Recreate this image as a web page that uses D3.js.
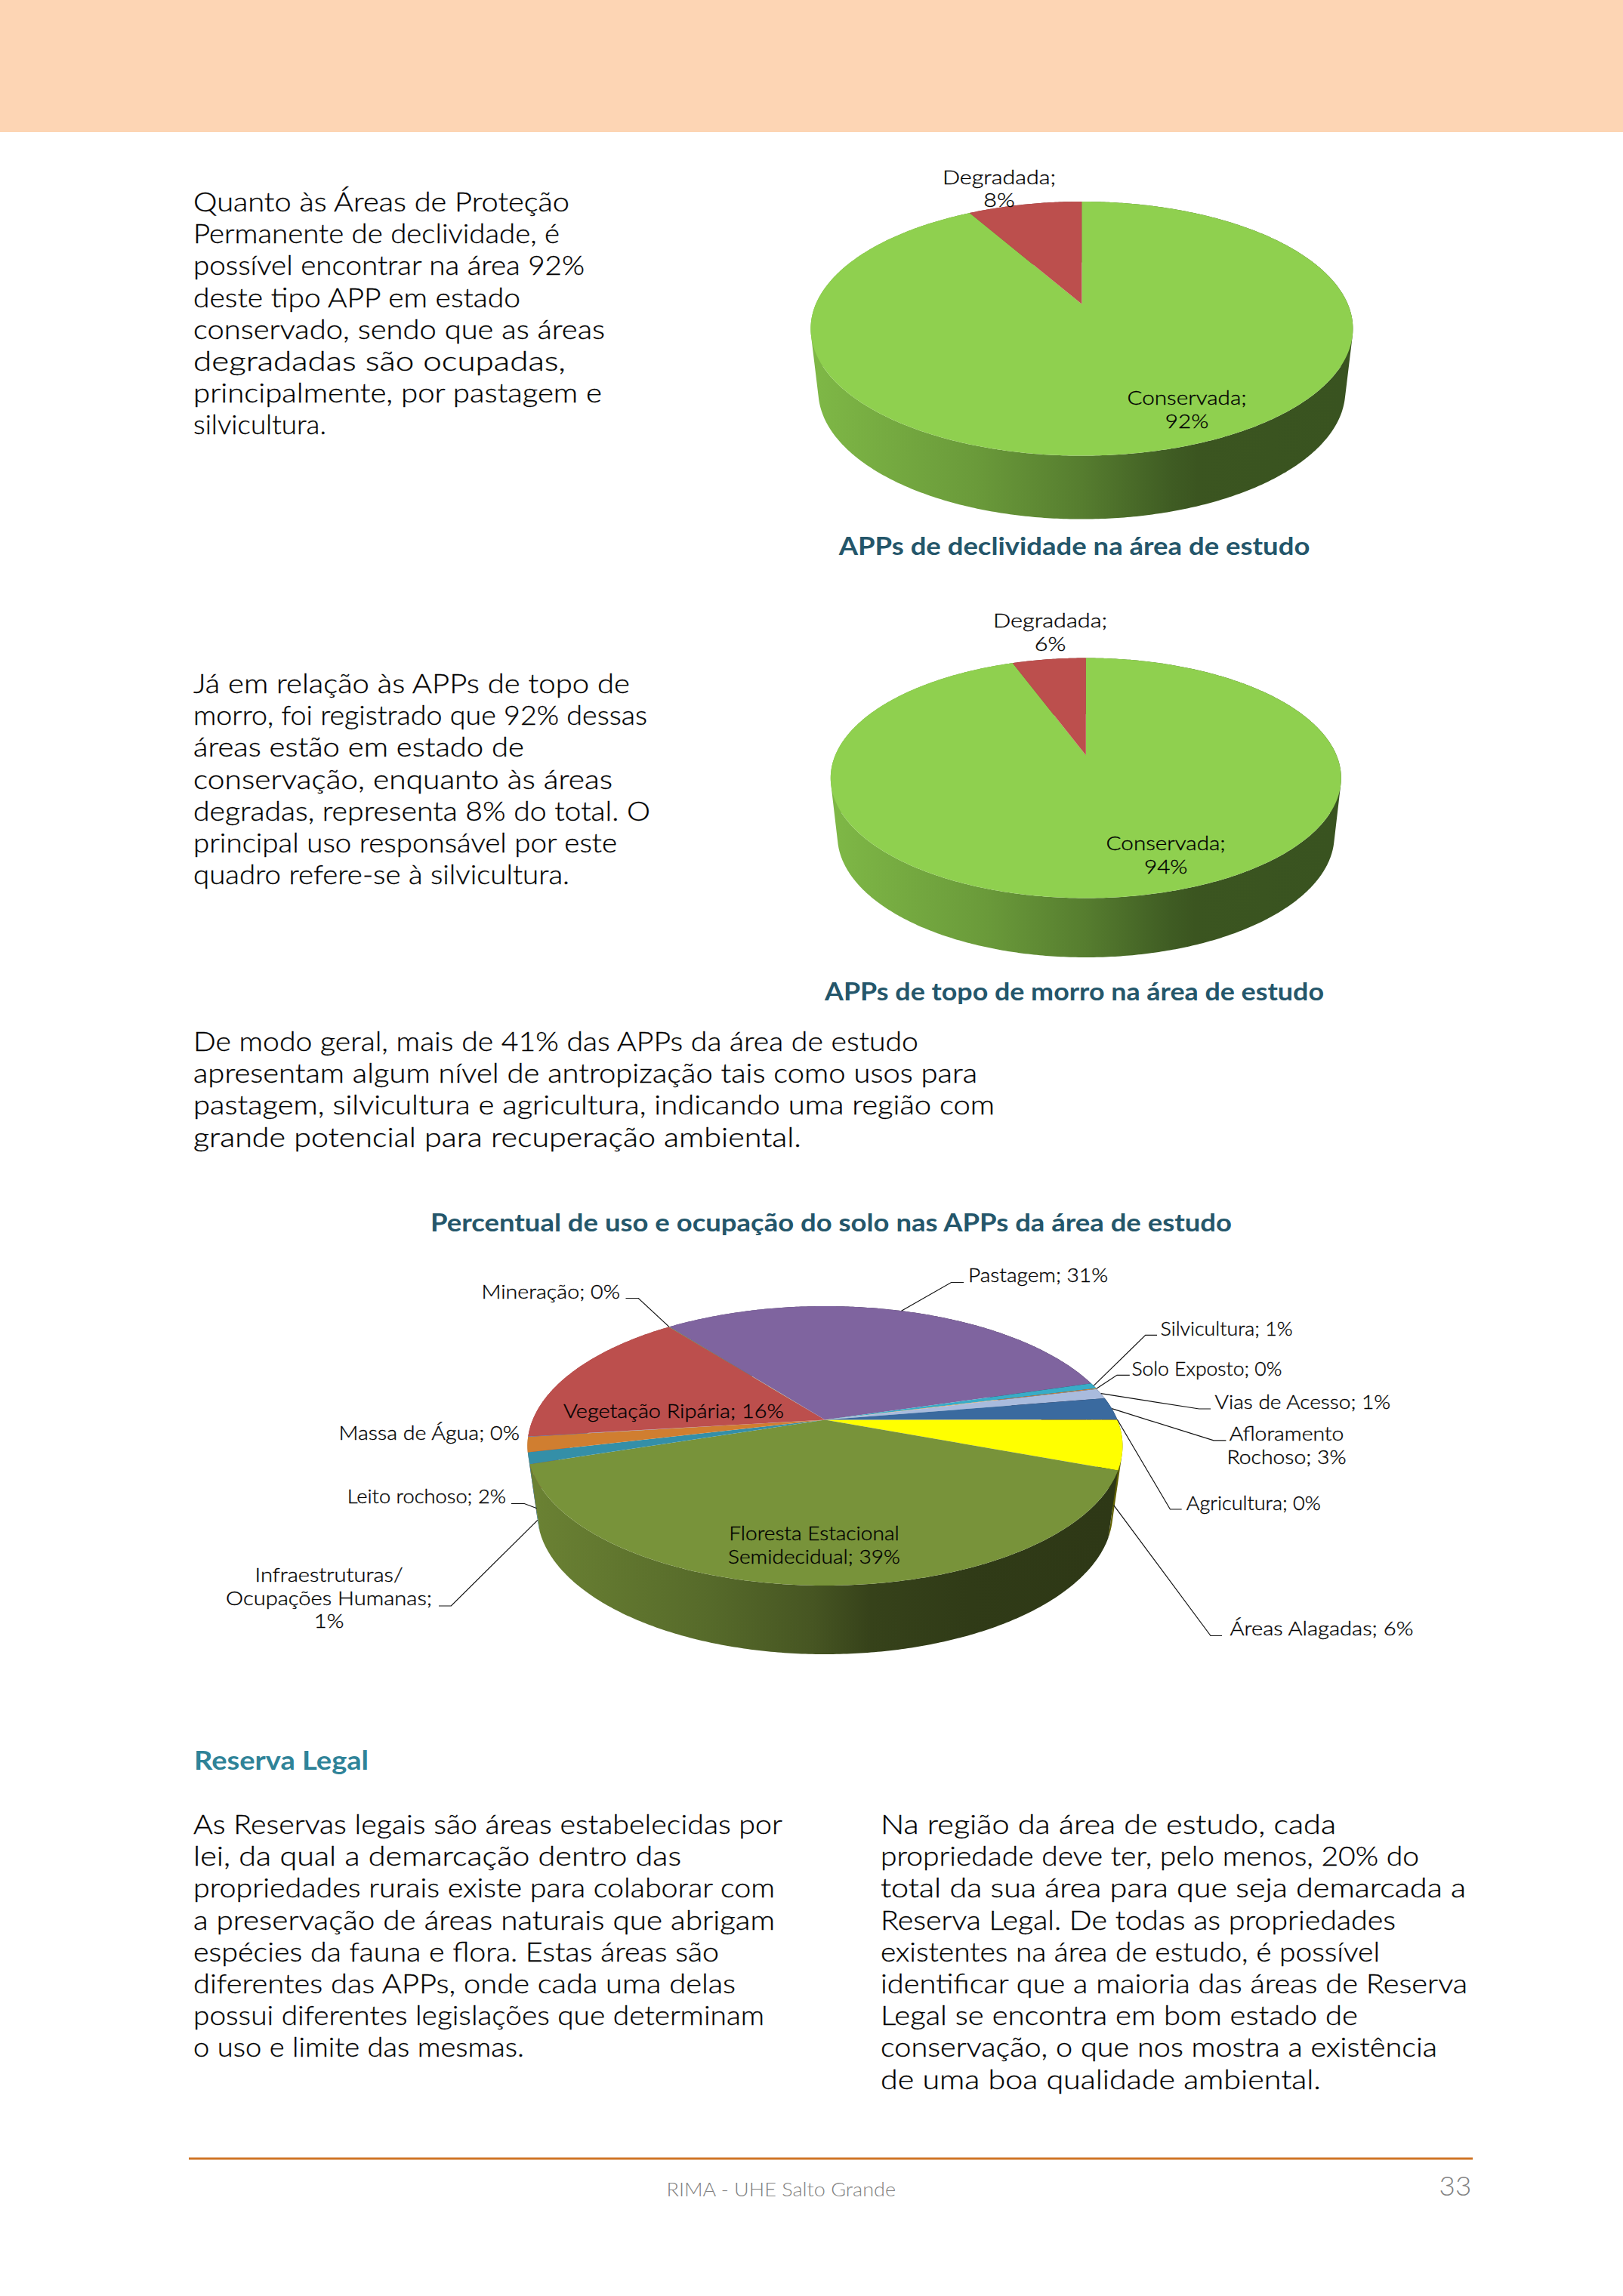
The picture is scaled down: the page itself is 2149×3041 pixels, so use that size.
<!DOCTYPE html>
<html><head><meta charset="utf-8">
<script src="https://cdnjs.cloudflare.com/ajax/libs/d3/7.8.5/d3.min.js"></script>
<style>html,body{margin:0;padding:0;background:#fff}svg{display:block}</style>
</head><body><div id="page"></div>
<script>
// ---------- data ----------
const slopeCategories = ["Conservada", "Degradada"];
const slopeValues = [91.8, 8.2];
const slopeColors = ["#8FD04F", "#BC4F4D"];

const hilltopCategories = ["Conservada", "Degradada"];
const hilltopValues = [94.4, 5.6];
const hilltopColors = ["#8FD04F", "#BC4F4D"];

const usoCategories = ["Áreas Alagadas", "Floresta Estacional\nSemidecidual", "Infraestruturas/\nOcupações Humanas",
  "Leito rochoso", "Massa de Água", "Vegetação Ripária", "Mineração", "Pastagem", "Silvicultura",
  "Solo Exposto", "Vias de Acesso", "Afloramento\nRochoso", "Agricultura"];
const usoValues = [5.7, 39.3, 1.3, 1.75, 0.05, 16.4, 0.05, 30.85, 0.65, 0.1, 1.2, 2.6, 0.05];
const usoColors = ["#FFFF00", "#78933A", "#348FA8", "#D07E30", "#6F8FC0", "#BC4F4D", "#9BBB59", "#7F649F",
  "#38ACC7", "#D9913F", "#A9BBDD", "#3A6A9F", "#D0A030"];

const para1 = ["Quanto às Áreas de Proteção", "Permanente de declividade, é", "possível encontrar na área 92%",
  "deste tipo APP em estado", "conservado, sendo que as áreas", "degradadas são ocupadas,",
  "principalmente, por pastagem e", "silvicultura."];
const para2 = ["Já em relação às APPs de topo de", "morro, foi registrado que 92% dessas",
  "áreas estão em estado de", "conservação, enquanto às áreas", "degradas, representa 8% do total. O",
  "principal uso responsável por este", "quadro refere-se à silvicultura."];
const para3 = ["De modo geral, mais de 41% das APPs da área de estudo",
  "apresentam algum nível de antropização tais como usos para",
  "pastagem, silvicultura e agricultura, indicando uma região com",
  "grande potencial para recuperação ambiental."];
const para4 = ["As Reservas legais são áreas estabelecidas por", "lei, da qual a demarcação dentro das",
  "propriedades rurais existe para colaborar com", "a preservação de áreas naturais que abrigam",
  "espécies da fauna e flora. Estas áreas são", "diferentes das APPs, onde cada uma delas",
  "possui diferentes legislações que determinam", "o uso e limite das mesmas."];
const para5 = ["Na região da área de estudo, cada", "propriedade deve ter, pelo menos, 20% do",
  "total da sua área para que seja demarcada a", "Reserva Legal. De todas as propriedades",
  "existentes na área de estudo, é possível", "identificar que a maioria das áreas de Reserva",
  "Legal se encontra em bom estado de", "conservação, o que nos mostra a existência",
  "de uma boa qualidade ambiental."];

// ---------- layout ----------
const W = 2149, H = 3041;
const FONT = "Lato, 'Open Sans', sans-serif";
const svg = d3.select("#page").append("svg").attr("width", W).attr("height", H).attr("viewBox", `0 0 ${W} ${H}`);
const defs = svg.append("defs");
svg.append("rect").attr("width", W).attr("height", H).attr("fill", "#fff");
svg.append("rect").attr("width", W).attr("height", 175).attr("fill", "#FDD5B4");

// stretch each line to reach the wide geometric look of the source face
function put(g, str, x, y, o) {
  const t = g.append("text").attr("x", x).attr("y", y).text(str)
    .attr("font-family", FONT).attr("font-size", o.size).attr("font-weight", o.weight || 300)
    .attr("fill", o.fill || "#000").attr("text-anchor", o.anchor || "start");
  if (o.stroke) t.attr("stroke", o.fill || "#000").attr("stroke-width", o.stroke);
  const len = t.node().getComputedTextLength();
  t.attr("textLength", o.width || len * o.k).attr("lengthAdjust", "spacingAndGlyphs");
  return t;
}

let gradId = 0;
function wallGradient(color, x0, x1, stops) {
  const id = "wall" + (gradId++);
  const grad = defs.append("linearGradient").attr("id", id).attr("gradientUnits", "userSpaceOnUse")
    .attr("x1", x0).attr("x2", x1).attr("y1", 0).attr("y2", 0);
  const c = d3.rgb(color);
  stops.forEach(([o, f]) => grad.append("stop").attr("offset", o)
    .attr("stop-color", d3.rgb(c.r * f, c.g * f, c.b * f).formatHex()));
  return `url(#${id})`;
}

// Perspective pie: a true circle is boosted so its centre lands on the apex above the ellipse centre.
function pie3d(cfg) {
  const g = svg.append("g");
  const a = cfg.tilt, s = Math.sqrt(1 - a * a);
  const xTop = d3.scaleLinear().domain([-1, 1]).range([cfg.cx - cfg.rx, cfg.cx + cfg.rx]);
  const yTop = d3.scaleLinear().domain([-1, 1]).range([cfg.cy - cfg.ry, cfg.cy + cfg.ry]);
  const xBot = d3.scaleLinear().domain([-1, 1]).range([cfg.cx - cfg.rxb, cfg.cx + cfg.rxb]);
  const yBot = d3.scaleLinear().domain([-1, 1]).range([cfg.cyb - cfg.ryb, cfg.cyb + cfg.ryb]);
  const boost = t => {
    const u = Math.sin(t), v = -Math.cos(t), d = 1 + a * v;
    return [u * s / d, (v + a) / d];
  };
  const top = t => { const [u, v] = boost(t); return [xTop(u), yTop(v)]; };
  const bot = t => { const [u, v] = boost(t); return [xBot(u), yBot(v)]; };
  const apex = [xTop(0), yTop(a)];
  const arcs = d3.pie().sort(null).startAngle(cfg.start).endAngle(cfg.start + 2 * Math.PI)(cfg.values);
  const line = d3.line();
  const sample = d => {
    const n = Math.max(2, Math.ceil((d.endAngle - d.startAngle) / 0.01));
    return d3.range(n + 1).map(i => d.startAngle + (d.endAngle - d.startAngle) * i / n);
  };
  // the wall is a strip of consistently wound quads, so the tangent silhouette between the two rims is filled
  const wallPath = d => {
    const t = sample(d);
    return d3.range(t.length - 1).map(i => {
      const q = [top(t[i]), top(t[i + 1]), bot(t[i + 1]), bot(t[i])];
      if (d3.polygonArea(q) < 0) q.reverse();
      return line(q) + "Z";
    }).join("");
  };
  const order = arcs.slice().sort((p, q) =>
    top((p.startAngle + p.endAngle) / 2)[1] - top((q.startAngle + q.endAngle) / 2)[1]);
  g.selectAll("path.wall").data(order).join("path").attr("class", "wall")
    .attr("d", wallPath)
    .attr("fill", d => wallGradient(cfg.colors[d.index], cfg.cx - cfg.rxb, cfg.cx + cfg.rxb, cfg.stops));
  g.selectAll("path.face").data(arcs).join("path").attr("class", "face")
    .attr("d", d => line([apex, ...sample(d).map(top)]) + "Z")
    .attr("fill", d => cfg.colors[d.index]);
  // labels
  const lab = g.append("g");
  arcs.forEach(d => {
    const p = cfg.place[d.index];
    const pct = Math.round(d.value) + "%";
    const lines = (cfg.names[d.index] + ";" + (p.sep || " ") + pct).split("\n");
    lines.forEach((l, i) => put(lab, l, p.x, p.y + i * (p.lh || 30.7),
      { size: 26, k: p.k, anchor: p.anchor, fill: "#000", stroke: .35 }));
    if (p.lead) {
      const m = (d.startAngle + d.endAngle) / 2, pt = top(m), pb = bot(m), f = p.drop || 0;
      const end = [pt[0] + (pb[0] - pt[0]) * f, pt[1] + (pb[1] - pt[1]) * f];
      g.append("path").attr("fill", "none").attr("stroke", "#111").attr("stroke-width", 1.2)
        .attr("d", line([[p.lead[0], p.lead[2]], [p.lead[1], p.lead[2]], end]));
    }
  });
}

const greenStops = [[0, .88], [.3, .74], [.5, .6], [.67, .44], [.72, .41], [1, .4]];
const oliveStops = [[0, .88], [.3, .72], [.48, .58], [.58, .45], [.75, .4], [1, .38]];
pie3d({ cx: 1432.4, rx: 359, cy: 435.3, ry: 168.3, tilt: -.193, cyb: 517.6, rxb: 349, ryb: 170, start: 0, stops: greenStops,
  values: slopeValues, colors: slopeColors, names: slopeCategories,
  place: [{ x: 1571.6, y: 536, anchor: "middle", sep: "\n", k: 1.14 }, { x: 1323, y: 243.6, anchor: "middle", sep: "\n", k: 1.17 }] });
pie3d({ cx: 1437.8, rx: 338, cy: 1030.5, ry: 159, tilt: -.191, cyb: 1107, rxb: 329, ryb: 161, start: 0, stops: greenStops,
  values: hilltopValues, colors: hilltopColors, names: hilltopCategories,
  place: [{ x: 1543.7, y: 1125.5, anchor: "middle", sep: "\n", k: 1.14, lh: 31.5 }, { x: 1390.6, y: 830.7, anchor: "middle", sep: "\n", k: 1.18, lh: 31.5 }] });
pie3d({ cx: 1092.4, rx: 394, cy: 1915, ry: 185, tilt: -.186, cyb: 2004, rxb: 381, ryb: 187, start: Math.PI / 2, stops: oliveStops,
  values: usoValues, colors: usoColors, names: usoCategories,
  place: [
    { x: 1628.5, y: 2166, k: 1.12, lead: [1618, 1603, 2166.5], drop: .9 },
    { x: 1078, y: 2040, anchor: "middle", k: 1.08 },
    { x: 435.6, y: 2095, anchor: "middle", sep: "\n", k: 1.12, lead: [581, 597.3, 2127], drop: .92 },
    { x: 670, y: 1991, anchor: "end", k: 1.05, lead: [677, 694.3, 1991.5], drop: .95 },
    { x: 688, y: 1907, anchor: "end", k: 1.1 },
    { x: 892, y: 1878, anchor: "middle", k: 1.11 },
    { x: 821, y: 1720, anchor: "end", k: 1.1, lead: [828.5, 845.3, 1719.5] },
    { x: 1282, y: 1698, k: 1.08, lead: [1276, 1259.6, 1698.5] },
    { x: 1536.6, y: 1769, k: 1.03, lead: [1532, 1516.7, 1768.4] },
    { x: 1498.4, y: 1822, k: 1.02, lead: [1495.8, 1479, 1821.3] },
    { x: 1608.6, y: 1866.4, k: 1.08, lead: [1603, 1587.7, 1866] },
    { x: 1703.5, y: 1908, anchor: "middle", k: 1.09, lh: 31, lead: [1623.4, 1607, 1907.9] },
    { x: 1570.8, y: 2000, k: 1.04, lead: [1564.7, 1549.4, 1999] }
  ] });

// ---------- page text ----------
const page = svg.append("g");
// measured right-hand ends of the lines, in page pixels
const para1Ends = [754, 741, 774, 689, 801, 749, 797, 432];
const para2Ends = [834, 857, 694, 811, 861, 817, 754];
const para3Ends = [1216, 1294, 1317, 1061];
const para4Ends = [1036, 902, 1026, 1026, 952, 974, 1012, 694];
const para5Ends = [1769, 1879, 1941, 1848, 1827, 1943, 1798, 1903, 1749];
const para = (lines, ends, x, y) => lines.forEach((l, i) =>
  put(page, l, x, y + i * 42.2, { size: 35, width: ends[i] - x, fill: "#000", stroke: .3 }));
para(para1, para1Ends, 256, 280);
para(para2, para2Ends, 256, 918);
para(para3, para3Ends, 256, 1392);
para(para4, para4Ends, 256, 2429);
para(para5, para5Ends, 1166, 2429);

const title = { size: 32, weight: 700, k: 1.14, fill: "#24566A", anchor: "middle" };
put(page, "APPs de declividade na área de estudo", 1422.5, 734.6, title);
put(page, "APPs de topo de morro na área de estudo", 1422.5, 1325, { ...title, k: 1.12 });
put(page, "Percentual de uso e ocupação do solo nas APPs da área de estudo", 1100.5, 1630.7, title);
put(page, "Reserva Legal", 257, 2344, { size: 34, weight: 700, k: 1.12, fill: "#2F8398" });

page.append("rect").attr("x", 250).attr("y", 2857.5).attr("width", 1700).attr("height", 3).attr("fill", "#CF7526");
put(page, "RIMA - UHE Salto Grande", 882.6, 2908.7, { size: 26, k: 1.04, fill: "#808080" });
put(page, "33", 1905.6, 2908, { size: 35, k: 1.05, fill: "#808080" });
</script></body></html>
